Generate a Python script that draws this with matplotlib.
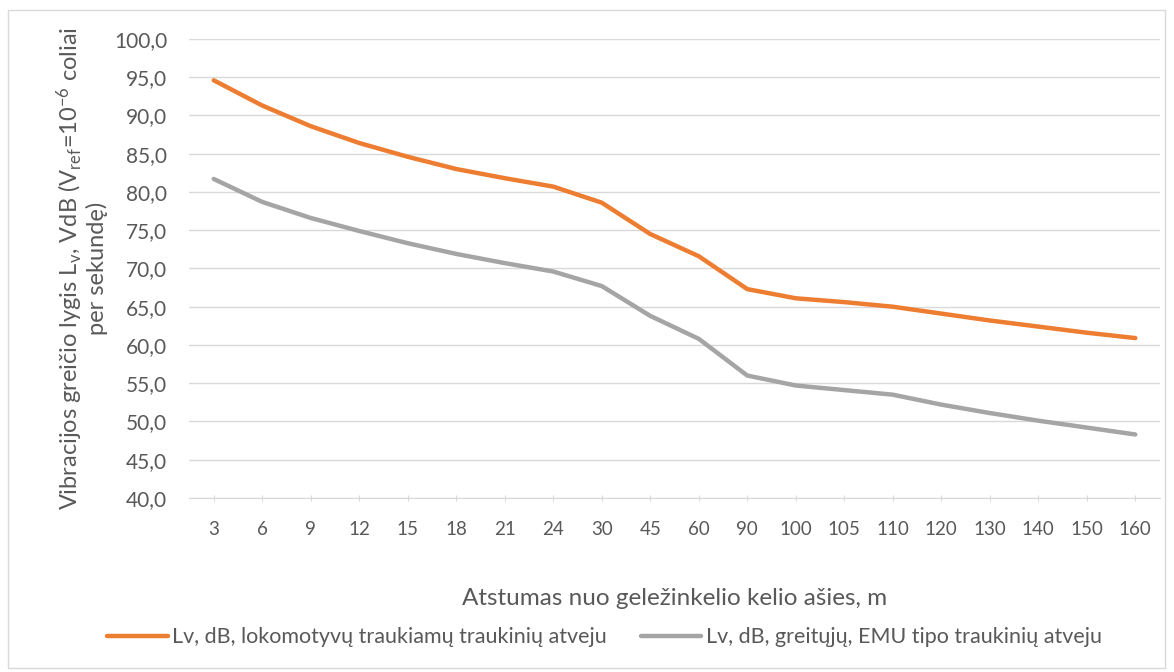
import matplotlib.pyplot as plt
from matplotlib.patches import Rectangle

plt.rcParams['font.family'] = ['Lato', 'DejaVu Sans']
plt.rcParams['mathtext.default'] = 'regular'

distances = ['3', '6', '9', '12', '15', '18', '21', '24', '30', '45',
             '60', '90', '100', '105', '110', '120', '130', '140', '150', '160']
lv_locomotive = [94.6, 91.3, 88.6, 86.4, 84.6, 83.0, 81.8, 80.7, 78.6, 74.5,
                 71.6, 67.3, 66.1, 65.6, 65.0, 64.1, 63.2, 62.4, 61.6, 60.9]
lv_emu = [81.7, 78.7, 76.6, 74.9, 73.3, 71.9, 70.7, 69.6, 67.7, 63.8,
          60.8, 56.0, 54.7, 54.1, 53.5, 52.2, 51.1, 50.1, 49.2, 48.3]
yticks = [40, 45, 50, 55, 60, 65, 70, 75, 80, 85, 90, 95, 100]

txt = '#595959'
fig = plt.figure(figsize=(11.74, 6.72), dpi=100)
ax = fig.add_axes([0.1614, 0.259, 0.8263, 0.683])

x = range(len(distances))
ax.plot(x, lv_locomotive, color='#ed7d31', lw=3.2, solid_capstyle='round',
        label='Lv, dB, lokomotyvų traukiamų traukinių atveju')
ax.plot(x, lv_emu, color='#a5a5a5', lw=3.2, solid_capstyle='round',
        label='Lv, dB, greitųjų, EMU tipo traukinių atveju')

ax.set_xlim(-0.5, len(distances) - 0.5)
ax.set_ylim(40, 100)
ax.set_yticks(yticks)
ax.set_yticklabels([f'{v:.1f}'.replace('.', ',') for v in yticks])
ax.set_xticks(list(x))
ax.set_xticklabels(distances)
ax.grid(axis='y', color='#d9d9d9', lw=1)
ax.set_axisbelow(True)
for s in ['top', 'right', 'left']:
    ax.spines[s].set_visible(False)
ax.spines['bottom'].set_color('#d9d9d9')
ax.tick_params(axis='y', length=0, pad=16, labelsize=15, labelcolor=txt)
ax.tick_params(axis='x', length=5, color='#d9d9d9', direction='inout',
               pad=14, labelsize=13.5, labelcolor=txt)

ax.set_xlabel('Atstumas nuo geležinkelio kelio ašies, m', fontsize=17.5,
              color=txt, labelpad=36)
ax.set_ylabel('Vibracijos greičio lygis L$_v$, VdB (V$_{ref}$=10$^{-6}$ coliai\nper sekundę)',
              fontsize=17, color=txt, labelpad=4, linespacing=1.1)

fig.legend(loc='center', bbox_to_anchor=(0.515, 0.052), ncol=2, frameon=False,
           fontsize=15.5, labelcolor=txt, handlelength=2.8, handletextpad=0.2,
           columnspacing=1.6)

fig.add_artist(Rectangle((0.007, 0.006), 0.985, 0.979, transform=fig.transFigure,
                         fill=False, edgecolor='#d9d9d9', lw=1))

fig.savefig('out.png', dpi=100, facecolor='white')
